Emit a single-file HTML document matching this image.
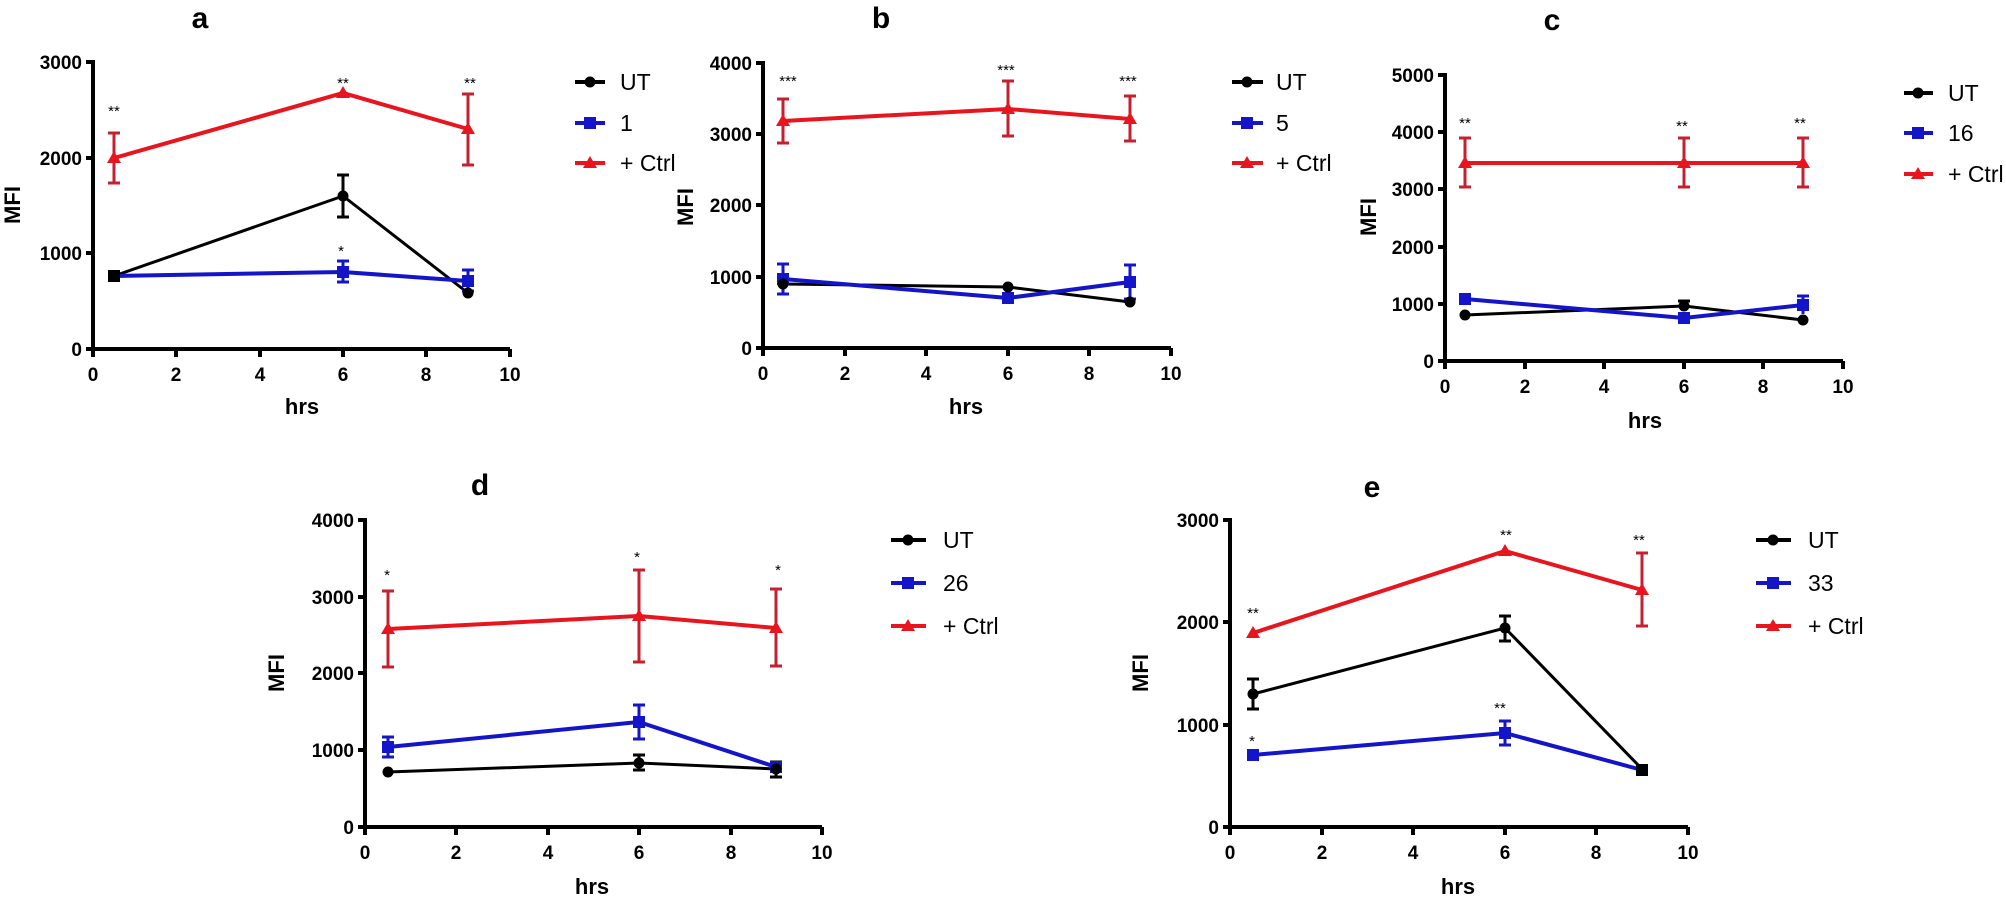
<!DOCTYPE html>
<html><head><meta charset="utf-8"><style>
html,body{margin:0;padding:0;background:#fff;}
svg{display:block;}
.t{font-family:"Liberation Sans",sans-serif;font-weight:bold;font-size:19px;fill:#000;}
.ttl{font-family:"Liberation Sans",sans-serif;font-weight:bold;font-size:30px;fill:#000;text-anchor:middle;}
.lab{font-family:"Liberation Sans",sans-serif;font-weight:bold;font-size:22px;fill:#000;text-anchor:middle;}
.lg{font-family:"Liberation Sans Narrow","Liberation Sans",sans-serif;font-size:23px;fill:#000;}
.st{font-family:"Liberation Sans",sans-serif;font-size:15px;fill:#000;text-anchor:middle;}
.ax{stroke:#000;stroke-width:4;fill:none;}
.k{stroke:#000;stroke-width:3;fill:none;}
.b{stroke:#1414c8;stroke-width:4;fill:none;}
.r{stroke:#e8141e;stroke-width:4;fill:none;}
.re{stroke:#c42030;stroke-width:3;fill:none;}
.be{stroke:#1414c8;stroke-width:3;fill:none;}
.ke{stroke:#000;stroke-width:3;fill:none;}
</style></head><body>
<svg width="2006" height="910" viewBox="0 0 2006 910" xmlns="http://www.w3.org/2000/svg">
<defs>
<circle id="ci" r="5.5" fill="#000"/>
<rect id="sq" x="-6" y="-6" width="12" height="12" fill="#1414c8"/>
<polygon id="tr" points="0,-7 7,5 -7,5" fill="#e8141e"/>
</defs>

<!-- ================= Panel a ================= -->
<text class="ttl" x="200" y="28">a</text>
<path class="ax" d="M93,60 V349 H510"/>
<path class="ax" d="M86,62 H93 M86,158 H93 M86,253 H93 M86,349 H93 M93,349 V357 M176,349 V357 M260,349 V357 M343,349 V357 M426,349 V357 M510,349 V357"/>
<g class="t" text-anchor="end"><text x="82" y="69">3000</text><text x="82" y="165">2000</text><text x="82" y="260">1000</text><text x="82" y="356">0</text></g>
<g class="t" text-anchor="middle"><text x="93" y="381">0</text><text x="176" y="381">2</text><text x="260" y="381">4</text><text x="343" y="381">6</text><text x="426" y="381">8</text><text x="510" y="381">10</text></g>
<text class="lab" transform="translate(20,205) rotate(-90)">MFI</text>
<text class="lab" x="302" y="414">hrs</text>
<polyline class="r" points="114,158 343,93 468,129"/>
<path class="re" d="M114,133 V183 M108,133 H120 M108,183 H120 M343,90 V96 M468,94 V165 M462,94 H474 M462,165 H474"/>
<polyline class="k" points="114,276 343,196 468,293"/>
<path class="ke" d="M343,175 V217 M337,175 H349 M337,217 H349"/>
<polyline class="b" points="114,276 343,272 468,281"/>
<path class="be" d="M343,261 V282 M337,261 H349 M337,282 H349 M468,270 V291 M462,270 H474 M462,291 H474"/>
<use href="#tr" x="114" y="158"/><use href="#tr" x="343" y="93"/><use href="#tr" x="468" y="129"/>
<use href="#ci" x="343" y="196"/><use href="#ci" x="468" y="293"/>
<use href="#sq" x="114" y="276"/><use href="#sq" x="343" y="272"/><use href="#sq" x="468" y="281"/>
<rect x="108" y="270" width="12" height="12" fill="#000"/>
<text class="st" x="114" y="116">**</text><text class="st" x="343" y="88">**</text><text class="st" x="470" y="88">**</text><text class="st" x="341" y="256">*</text>
<path class="k" d="M575,82 H605" style="stroke-width:4"/><use href="#ci" x="590" y="82"/>
<path class="b" d="M575,123 H605"/><use href="#sq" x="590" y="123"/>
<path class="r" d="M575,163 H605"/><use href="#tr" x="590" y="163"/>
<g class="lg"><text x="620" y="90">UT</text><text x="620" y="131">1</text><text x="620" y="171">+ Ctrl</text></g>

<!-- ================= Panel b ================= -->
<text class="ttl" x="881" y="28">b</text>
<path class="ax" d="M763,61 V348 H1171"/>
<path class="ax" d="M756,63 H763 M756,134 H763 M756,205 H763 M756,277 H763 M756,348 H763 M763,348 V356 M845,348 V356 M926,348 V356 M1008,348 V356 M1089,348 V356 M1171,348 V356"/>
<g class="t" text-anchor="end"><text x="752" y="70">4000</text><text x="752" y="141">3000</text><text x="752" y="212">2000</text><text x="752" y="284">1000</text><text x="752" y="355">0</text></g>
<g class="t" text-anchor="middle"><text x="763" y="380">0</text><text x="845" y="380">2</text><text x="926" y="380">4</text><text x="1008" y="380">6</text><text x="1089" y="380">8</text><text x="1171" y="380">10</text></g>
<text class="lab" transform="translate(693,207) rotate(-90)">MFI</text>
<text class="lab" x="966" y="414">hrs</text>
<polyline class="r" points="783,121 1008,109 1130,119"/>
<path class="re" d="M783,99 V143 M777,99 H789 M777,143 H789 M1008,81 V136 M1002,81 H1014 M1002,136 H1014 M1130,96 V141 M1124,96 H1136 M1124,141 H1136"/>
<polyline class="k" points="783,284 1008,287 1130,302"/>
<polyline class="b" points="783,279 1008,298 1130,282"/>
<path class="be" d="M783,264 V294 M777,264 H789 M777,294 H789 M1130,265 V299 M1124,265 H1136 M1124,299 H1136"/>
<use href="#tr" x="783" y="121"/><use href="#tr" x="1008" y="109"/><use href="#tr" x="1130" y="119"/>
<use href="#sq" x="783" y="279"/><use href="#sq" x="1008" y="298"/><use href="#sq" x="1130" y="282"/>
<use href="#ci" x="783" y="284"/><use href="#ci" x="1008" y="287"/><use href="#ci" x="1130" y="302"/>
<text class="st" x="788" y="86">***</text><text class="st" x="1006" y="75">***</text><text class="st" x="1128" y="86">***</text>
<path class="k" d="M1232,82 H1263" style="stroke-width:4"/><use href="#ci" x="1247" y="82"/>
<path class="b" d="M1232,123 H1263"/><use href="#sq" x="1247" y="123"/>
<path class="r" d="M1232,163 H1263"/><use href="#tr" x="1247" y="163"/>
<g class="lg"><text x="1276" y="90">UT</text><text x="1276" y="131">5</text><text x="1276" y="171">+ Ctrl</text></g>

<!-- ================= Panel c ================= -->
<text class="ttl" x="1552" y="30">c</text>
<path class="ax" d="M1445,73 V361 H1843"/>
<path class="ax" d="M1438,75 H1445 M1438,132 H1445 M1438,189 H1445 M1438,247 H1445 M1438,304 H1445 M1438,361 H1445 M1445,361 V369 M1525,361 V369 M1604,361 V369 M1684,361 V369 M1763,361 V369 M1843,361 V369"/>
<g class="t" text-anchor="end"><text x="1434" y="82">5000</text><text x="1434" y="139">4000</text><text x="1434" y="196">3000</text><text x="1434" y="254">2000</text><text x="1434" y="311">1000</text><text x="1434" y="368">0</text></g>
<g class="t" text-anchor="middle"><text x="1445" y="393">0</text><text x="1525" y="393">2</text><text x="1604" y="393">4</text><text x="1684" y="393">6</text><text x="1763" y="393">8</text><text x="1843" y="393">10</text></g>
<text class="lab" transform="translate(1376,217) rotate(-90)">MFI</text>
<text class="lab" x="1645" y="428">hrs</text>
<polyline class="r" points="1465,163 1684,163 1803,163"/>
<path class="re" d="M1465,138 V187 M1459,138 H1471 M1459,187 H1471 M1684,138 V187 M1678,138 H1690 M1678,187 H1690 M1803,138 V187 M1797,138 H1809 M1797,187 H1809"/>
<polyline class="k" points="1465,315 1684,306 1803,320"/>
<path class="ke" d="M1684,301 V311 M1678,301 H1690"/>
<polyline class="b" points="1465,299 1684,318 1803,305"/>
<path class="be" d="M1803,296 V314 M1797,296 H1809"/>
<use href="#tr" x="1465" y="163"/><use href="#tr" x="1684" y="163"/><use href="#tr" x="1803" y="163"/>
<use href="#sq" x="1465" y="299"/><use href="#sq" x="1684" y="318"/><use href="#sq" x="1803" y="305"/>
<use href="#ci" x="1465" y="315"/><use href="#ci" x="1684" y="306"/><use href="#ci" x="1803" y="320"/>
<text class="st" x="1465" y="128">**</text><text class="st" x="1682" y="131">**</text><text class="st" x="1800" y="128">**</text>
<path class="k" d="M1904,93 H1933" style="stroke-width:4"/><use href="#ci" x="1918" y="93"/>
<path class="b" d="M1904,133 H1933"/><use href="#sq" x="1918" y="133"/>
<path class="r" d="M1904,174 H1933"/><use href="#tr" x="1918" y="174"/>
<g class="lg"><text x="1948" y="101">UT</text><text x="1948" y="141">16</text><text x="1948" y="182">+ Ctrl</text></g>

<!-- ================= Panel d ================= -->
<text class="ttl" x="480" y="495">d</text>
<path class="ax" d="M365,518 V827 H822"/>
<path class="ax" d="M358,520 H365 M358,597 H365 M358,673 H365 M358,750 H365 M358,827 H365 M365,827 V835 M456,827 V835 M548,827 V835 M639,827 V835 M731,827 V835 M822,827 V835"/>
<g class="t" text-anchor="end"><text x="354" y="527">4000</text><text x="354" y="604">3000</text><text x="354" y="680">2000</text><text x="354" y="757">1000</text><text x="354" y="834">0</text></g>
<g class="t" text-anchor="middle"><text x="365" y="859">0</text><text x="456" y="859">2</text><text x="548" y="859">4</text><text x="639" y="859">6</text><text x="731" y="859">8</text><text x="822" y="859">10</text></g>
<text class="lab" transform="translate(284,673) rotate(-90)">MFI</text>
<text class="lab" x="592" y="894">hrs</text>
<polyline class="r" points="388,629 639,616 776,628"/>
<path class="re" d="M388,591 V667 M382,591 H394 M382,667 H394 M639,570 V662 M633,570 H645 M633,662 H645 M776,589 V666 M770,589 H782 M770,666 H782"/>
<polyline class="b" points="388,747 639,722 776,767"/>
<path class="be" d="M388,737 V757 M382,737 H394 M382,757 H394 M639,705 V739 M633,705 H645 M633,739 H645"/>
<polyline class="k" points="388,772 639,763 776,769"/>
<path class="ke" d="M639,755 V770 M633,755 H645 M633,770 H645 M776,762 V777 M770,762 H782 M770,777 H782"/>
<use href="#tr" x="388" y="629"/><use href="#tr" x="639" y="616"/><use href="#tr" x="776" y="628"/>
<use href="#sq" x="388" y="747"/><use href="#sq" x="639" y="722"/><use href="#sq" x="776" y="767"/>
<use href="#ci" x="388" y="772"/><use href="#ci" x="639" y="763"/><use href="#ci" x="776" y="769"/>
<text class="st" x="387" y="580">*</text><text class="st" x="637" y="562">*</text><text class="st" x="778" y="575">*</text>
<path class="k" d="M891,540 H926" style="stroke-width:4"/><use href="#ci" x="908" y="540"/>
<path class="b" d="M891,583 H926"/><use href="#sq" x="908" y="583"/>
<path class="r" d="M891,626 H926"/><use href="#tr" x="908" y="626"/>
<g class="lg"><text x="943" y="548">UT</text><text x="943" y="591">26</text><text x="943" y="634">+ Ctrl</text></g>

<!-- ================= Panel e ================= -->
<text class="ttl" x="1372" y="497">e</text>
<path class="ax" d="M1230,518 V827 H1688"/>
<path class="ax" d="M1223,520 H1230 M1223,622 H1230 M1223,725 H1230 M1223,827 H1230 M1230,827 V835 M1322,827 V835 M1413,827 V835 M1505,827 V835 M1596,827 V835 M1688,827 V835"/>
<g class="t" text-anchor="end"><text x="1219" y="527">3000</text><text x="1219" y="629">2000</text><text x="1219" y="732">1000</text><text x="1219" y="834">0</text></g>
<g class="t" text-anchor="middle"><text x="1230" y="859">0</text><text x="1322" y="859">2</text><text x="1413" y="859">4</text><text x="1505" y="859">6</text><text x="1596" y="859">8</text><text x="1688" y="859">10</text></g>
<text class="lab" transform="translate(1148,673) rotate(-90)">MFI</text>
<text class="lab" x="1458" y="894">hrs</text>
<polyline class="r" points="1253,633 1505,551 1642,590"/>
<path class="re" d="M1505,547 V555 M1642,553 V626 M1636,553 H1648 M1636,626 H1648"/>
<polyline class="k" points="1253,694 1505,628 1642,769"/>
<path class="ke" d="M1253,679 V709 M1247,679 H1259 M1247,709 H1259 M1505,616 V641 M1499,616 H1511 M1499,641 H1511"/>
<polyline class="b" points="1253,755 1505,733 1642,770"/>
<path class="be" d="M1505,721 V745 M1499,721 H1511 M1499,745 H1511"/>
<use href="#tr" x="1253" y="633"/><use href="#tr" x="1505" y="551"/><use href="#tr" x="1642" y="590"/>
<use href="#ci" x="1253" y="694"/><use href="#ci" x="1505" y="628"/>
<use href="#sq" x="1253" y="755"/><use href="#sq" x="1505" y="733"/>
<rect x="1636" y="764" width="12" height="12" fill="#000"/>
<text class="st" x="1253" y="618">**</text><text class="st" x="1506" y="540">**</text><text class="st" x="1639" y="545">**</text>
<text class="st" x="1252" y="746">*</text><text class="st" x="1500" y="713">**</text>
<path class="k" d="M1756,540 H1791" style="stroke-width:4"/><use href="#ci" x="1773" y="540"/>
<path class="b" d="M1756,583 H1791"/><use href="#sq" x="1773" y="583"/>
<path class="r" d="M1756,626 H1791"/><use href="#tr" x="1773" y="626"/>
<g class="lg"><text x="1808" y="548">UT</text><text x="1808" y="591">33</text><text x="1808" y="634">+ Ctrl</text></g>
</svg>
</body></html>
